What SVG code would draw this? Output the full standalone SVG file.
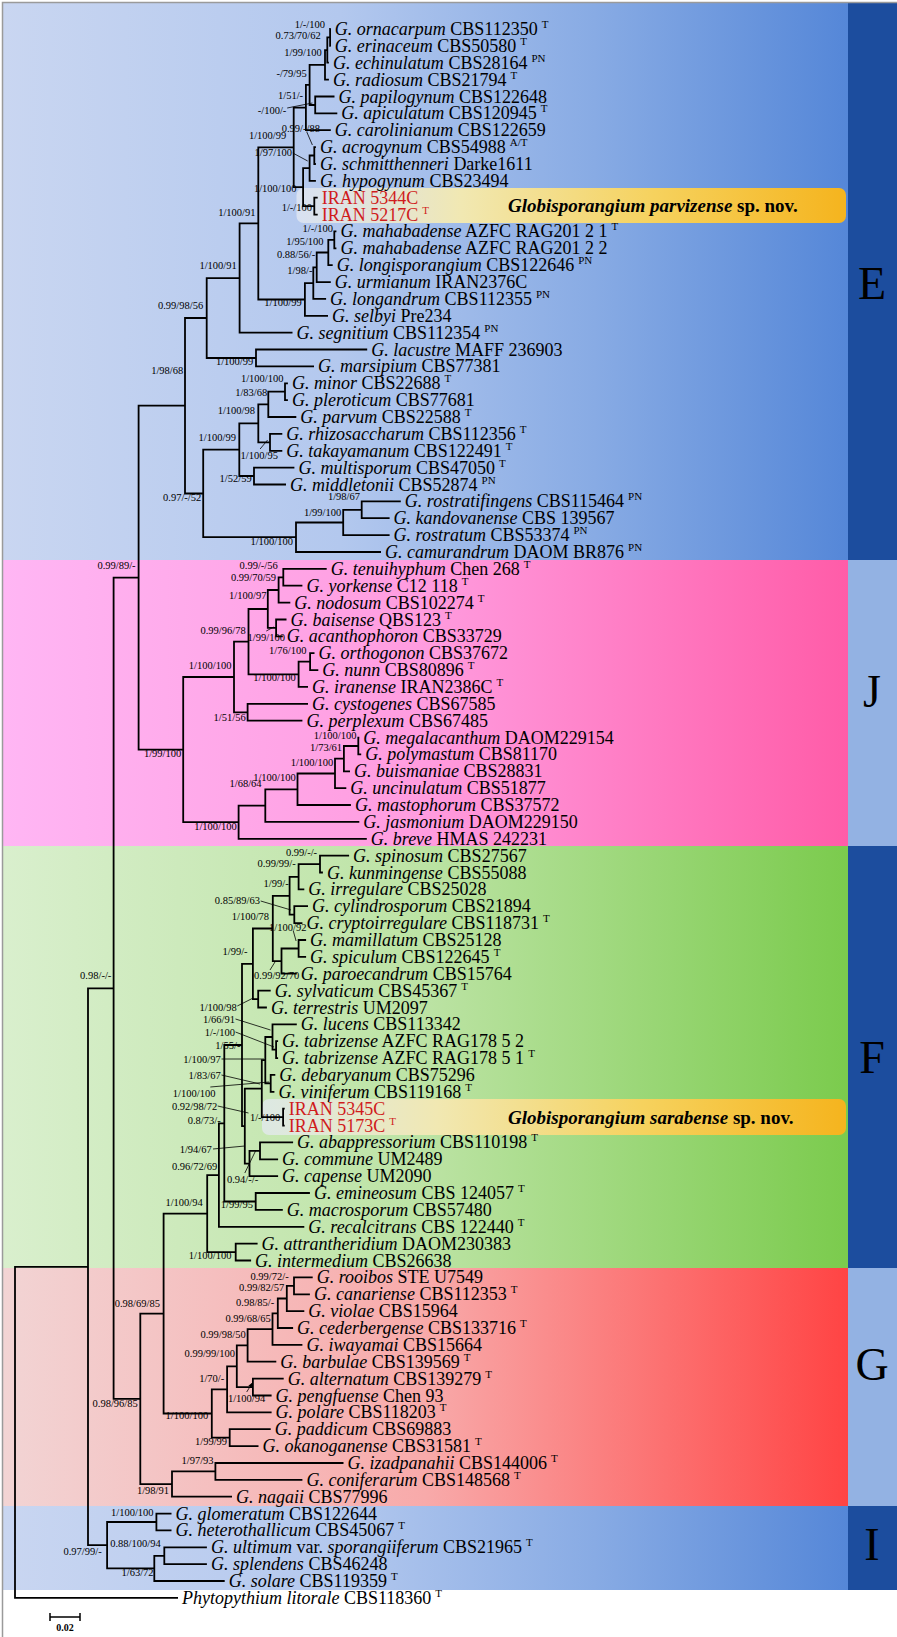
<svg xmlns="http://www.w3.org/2000/svg" width="897" height="1637" viewBox="0 0 897 1637">
<style>
.t{font-family:"Liberation Serif",serif;font-size:18px;fill:#000}
.i{font-style:italic}
.s{font-size:11px}
.r{fill:#d01c1c}
.b{font-family:"Liberation Serif",serif;font-size:10.5px;text-anchor:end;fill:#000}
.br{fill:none;stroke:#000;stroke-width:1.8}
.ar{fill:none;stroke:#000;stroke-width:0.8;marker-end:url(#ah)}
.L{font-family:"Liberation Serif",serif;font-size:46px;text-anchor:middle;fill:#000}
.nov{font-family:"Liberation Serif",serif;font-size:19px;font-weight:bold;fill:#000}
</style>
<defs>
<linearGradient id="gE" x1="0" x2="1" y1="0" y2="0"><stop offset="0" stop-color="#c9d6f1"/><stop offset="0.4" stop-color="#b3c8ee"/><stop offset="0.7" stop-color="#88abe4"/><stop offset="1" stop-color="#5587d8"/></linearGradient>
<linearGradient id="gJ" x1="0" x2="1" y1="0" y2="0"><stop offset="0" stop-color="#ffb6f4"/><stop offset="0.5" stop-color="#ff9cdf"/><stop offset="1" stop-color="#ff5ca8"/></linearGradient>
<linearGradient id="gF" x1="0" x2="1" y1="0" y2="0"><stop offset="0" stop-color="#d9efcd"/><stop offset="0.5" stop-color="#bce3a4"/><stop offset="1" stop-color="#7bcb4d"/></linearGradient>
<linearGradient id="gG" x1="0" x2="1" y1="0" y2="0"><stop offset="0" stop-color="#f2d4d4"/><stop offset="0.5" stop-color="#f8aaaa"/><stop offset="1" stop-color="#ff4444"/></linearGradient>
<linearGradient id="gN" x1="0" x2="1" y1="0" y2="0"><stop offset="0" stop-color="#e4e9f3" stop-opacity="0.75"/><stop offset="0.3" stop-color="#f1e8b2"/><stop offset="0.65" stop-color="#f6d25e"/><stop offset="1" stop-color="#f5b41e"/></linearGradient>
<marker id="ah" viewBox="0 0 10 10" refX="9" refY="5" markerWidth="6" markerHeight="6" orient="auto"><path d="M0,1L10,5L0,9z" fill="#000"/></marker>
</defs>
<rect x="0" y="0" width="897" height="1637" fill="#fff"/>
<g id="bands">
<rect x="3" y="3" width="845" height="557" fill="url(#gE)"/>
<rect x="3" y="560" width="845" height="286" fill="url(#gJ)"/>
<rect x="3" y="846" width="845" height="422" fill="url(#gF)"/>
<rect x="3" y="1268" width="845" height="238" fill="url(#gG)"/>
<rect x="3" y="1506" width="845" height="84" fill="url(#gE)"/>
<rect x="848" y="3" width="49" height="557" fill="#1c4d9e"/>
<rect x="848" y="560" width="49" height="286" fill="#93b2e3"/>
<rect x="848" y="846" width="49" height="422" fill="#1c4d9e"/>
<rect x="848" y="1268" width="49" height="238" fill="#93b2e3"/>
<rect x="848" y="1506" width="49" height="84" fill="#1c4d9e"/>
<path d="M2.5,1637V2.5H897" fill="none" stroke="#9a9a9a" stroke-width="1.5"/>
</g>
<g id="clade-letters">
<text class="L" x="872" y="299">E</text>
<text class="L" x="872" y="707">J</text>
<text class="L" x="872" y="1073">F</text>
<text class="L" x="872" y="1380">G</text>
<text class="L" x="872" y="1560">I</text>
</g>
<g id="novel-boxes">
<g id="box-parvizense"><rect x="296.5" y="188" width="549.5" height="35" rx="7" fill="url(#gN)"/><text class="nov" x="508" y="212"><tspan font-style="italic">Globisporangium parvizense</tspan> sp. nov.</text></g>
<g id="box-sarabense"><rect x="262" y="1099" width="584" height="36" rx="7" fill="url(#gN)"/><text class="nov" x="508" y="1124"><tspan font-style="italic">Globisporangium sarabense</tspan> sp. nov.</text></g>
</g>
<g id="connectors">
<path class="br" d="M330.8,29H330.1V45.9H330.8M330.1,37.4H327.3V62.7H328.9M327.3,50.1H325V79.6H328.9M334.5,96.5H315.2V113.4H337.3M325,64.8H309.6V105H315.2M309.6,84.9H305.9V130.2H330.8M315.9,147.1H314.3V164H315.9M314.3,155.5H309.6V180.8H315.9M317.7,197.7H314.3V214.6H317.7M309.6,168.2H303.1V206.1H314.3M305.9,107.6H293.7V187.1H303.1M336.4,231.4H334.3V248.3H336.4M334.3,239.9H328.3V265.2H332.7M328.3,252.5H316.7V282.1H330.8M316.7,267.3H313.3V298.9H326.1M313.3,283.1H304.9V315.8H328M293.7,147.4H258.3V299.5H304.9M258.3,223.4H239.6V332.7H292.5M367.2,349.5H256V366.4H314M239.6,278.1H206.7V358H256M287.9,383.3H285V400.1H287.9M285,391.7H268.3V417H296.3M282.3,433.9H270V450.8H282.3M268.3,404.4H258.3V442.3H270M294.4,467.6H254V484.5H286M258.3,423.4H239.3V476H254M400.8,501.4H361.7V518.2H389.6M361.7,509.8H343.2V535.1H389.6M343.2,522.5H296V552H381M239.3,449.7H203.2V537.2H296M206.7,318H185V493.5H203.2"/>
<path class="br" d="M326.7,568.8H283.3V585.7H302.4M283.3,577.3H278.6V602.6H290.3M286.5,619.5H276.1V636.3H282.8M278.6,590H267.8V627.9H276.1M314.5,653.2H310.1V670.1H318.3M310.1,661.7H298.6V686.9H308M267.8,609H248.5V674.3H298.6M308,703.8H247.6V720.7H302.4M248.5,641.7H234V712.3H247.6M359.3,737.6H358.3V754.4H361.2M358.3,746H343.9V771.3H350M343.9,758.7H335V788.2H346.3M335,773.5H297.5V805H350.9M297.5,789.3H265.3V821.9H359.3M265.3,805.6H238.6V838.8H366.8M234,677H183.2V822.2H238.6M185,405.7H138.6V749.6H183.2"/>
<path class="br" d="M349.1,855.6H320V872.5H322.9M320,864.1H298.6V889.4H304.3M308,906.2H294.3V923.1H302.4M298.6,876.8H289.6V914.7H294.3M306.1,940H298.6V956.9H306.1M298.6,948.5H281.5V973.7H296.8M289.6,895.8H272.8V961.1H281.5M270.7,990.6H258.2V1007.5H266.9M272.8,928.5H252.9V999.1H258.2M278.1,1041.2H276.1V1058.1H278.1M296.8,1024.3H272.5V1049.7H276.1M275.3,1074.9H270.7V1091.8H274.4M272.5,1037H265.3V1083.4H270.7M284.7,1108.7H283.1V1125.6H284.7M265.3,1060.2H261.8V1117.2H283.1M293.1,1142.4H260V1159.3H278.1M260,1150.9H249.5V1176.2H278.1M261.8,1088.7H244.8V1163.6H249.5M252.9,963.8H242V1126.2H244.8M309.9,1193H255.7V1209.9H282.8M242,1045H224.3V1201.5H255.7M224.3,1123.3H218.9V1226.8H304.3M257.6,1243.6H235.7V1260.5H251.1M218.9,1175.1H207.2V1252.1H235.7"/>
<path class="br" d="M312.7,1277.4H294V1294.3H309.9M294,1285.9H286.8V1311.1H304.3M286.8,1298.5H277.8V1328H293.1M277.8,1313.3H272.5V1344.9H302.4M272.5,1329.1H247.6V1361.7H276.3M283.7,1378.6H252.9V1395.5H271.6M247.6,1345.4H236.8V1387.1H252.9M236.8,1366.3H227.1V1412.3H271.6M270.7,1429.2H229.7V1446.1H258.5M227.1,1389.3H211.8V1437.7H229.7M207.2,1213.6H163.6V1413.5H211.8M343.5,1463H215.4V1479.8H302.4M215.4,1471.4H172V1496.7H232M163.6,1313.6H140.3V1484.1H172M138.6,577.7H113.6V1398.9H140.3"/>
<path class="br" d="M171.5,1513.6H156.4V1530.4H171.5M206.9,1547.3H164.3V1564.2H206.9M164.3,1555.8H154.3V1581H224.7M156.4,1522H107.1V1568.4H154.3M113.6,988.3H88V1545.2H107.1M88,1266.8H15V1597.9H178"/>
<path class="ar" d="M287.2,108L312.4,103M306.8,132L312.4,145M292.8,153L307.7,161M260.1,449L267.6,440M266.3,631L273.7,627M260.7,901L291,910M293.3,931L296.1,941M270,970L275.6,961M237.3,1006L253.2,998M235.5,1019L270.5,1030M235.5,1032L274,1047M221.5,1059L264,1059M221.5,1075L260,1084M210.3,1087L269.1,1082M217.7,1106L248.5,1113M213,1149L244.8,1146M244.8,1173L256,1150M246.7,1392L252.3,1383"/>
<path d="M50,1617H80M50,1613V1621M80,1613V1621" fill="none" stroke="#000" stroke-width="1.5"/>
</g>
<g id="support-values">
<text class="b" x="325" y="27.5">1/-/100</text>
<text class="b" x="320.8" y="38.5">0.73/70/62</text>
<text class="b" x="321.7" y="55.5">1/99/100</text>
<text class="b" x="306.8" y="76.5">-/79/95</text>
<text class="b" x="303.1" y="98.5">1/51/-</text>
<text class="b" x="286.3" y="113.5">-/100/-</text>
<text class="b" x="286.3" y="138.5">1/100/99</text>
<text class="b" x="319.9" y="131.5">0.99/-/88</text>
<text class="b" x="291.9" y="155.5">1/97/100</text>
<text class="b" x="296.5" y="191.5">1/100/100</text>
<text class="b" x="312" y="210.5">1/-/100</text>
<text class="b" x="255.5" y="215.5">1/100/91</text>
<text class="b" x="332.9" y="231.5">1/-/100</text>
<text class="b" x="323.6" y="244.5">1/95/100</text>
<text class="b" x="315.2" y="257.5">0.88/56/-</text>
<text class="b" x="312.4" y="273.5">1/98/-</text>
<text class="b" x="236.8" y="268.5">1/100/91</text>
<text class="b" x="301.7" y="305.5">1/100/99</text>
<text class="b" x="203.2" y="308.5">0.99/98/56</text>
<text class="b" x="253.3" y="364.5">1/100/99</text>
<text class="b" x="183.3" y="373.5">1/98/68</text>
<text class="b" x="283.5" y="381.5">1/100/100</text>
<text class="b" x="267.3" y="395.5">1/83/68</text>
<text class="b" x="255" y="413.5">1/100/98</text>
<text class="b" x="277.9" y="458.5">1/100/95</text>
<text class="b" x="235.9" y="440.5">1/100/99</text>
<text class="b" x="251.7" y="481.5">1/52/59</text>
<text class="b" x="201.3" y="500.5">0.97/-/52</text>
<text class="b" x="360" y="499.5">1/98/67</text>
<text class="b" x="341.3" y="515.5">1/99/100</text>
<text class="b" x="293" y="544.5">1/100/100</text>
<text class="b" x="135.6" y="568.5">0.99/89/-</text>
<text class="b" x="277.8" y="568.5">0.99/-/56</text>
<text class="b" x="276.1" y="580.5">0.99/70/59</text>
<text class="b" x="266.4" y="598.5">1/100/97</text>
<text class="b" x="284.9" y="640.5">1/99/100</text>
<text class="b" x="245.7" y="633.5">0.99/96/78</text>
<text class="b" x="306.4" y="653.5">1/76/100</text>
<text class="b" x="295.8" y="680.5">1/100/100</text>
<text class="b" x="231.4" y="668.5">1/100/100</text>
<text class="b" x="245.7" y="720.5">1/51/56</text>
<text class="b" x="181.3" y="756.5">1/99/100</text>
<text class="b" x="356.4" y="738.5">1/100/100</text>
<text class="b" x="342.1" y="750.5">1/73/61</text>
<text class="b" x="333.3" y="765.5">1/100/100</text>
<text class="b" x="295.8" y="780.5">1/100/100</text>
<text class="b" x="261.6" y="786.5">1/68/64</text>
<text class="b" x="236.8" y="829.5">1/100/100</text>
<text class="b" x="317.1" y="855.5">0.99/-/-</text>
<text class="b" x="295.8" y="866.5">0.99/99/-</text>
<text class="b" x="288.7" y="886.5">1/99/-</text>
<text class="b" x="260" y="903.5">0.85/89/63</text>
<text class="b" x="269.1" y="919.5">1/100/78</text>
<text class="b" x="306.4" y="930.5">1/100/92</text>
<text class="b" x="299.3" y="978.5">0.99/92/70</text>
<text class="b" x="247.6" y="954.5">1/99/-</text>
<text class="b" x="236.8" y="1010.5">1/100/98</text>
<text class="b" x="235" y="1022.5">1/66/91</text>
<text class="b" x="235" y="1035.5">1/-/100</text>
<text class="b" x="240.4" y="1048.5">1/55/-</text>
<text class="b" x="220.7" y="1062.5">1/100/97</text>
<text class="b" x="220.7" y="1078.5">1/83/67</text>
<text class="b" x="215.4" y="1096.5">1/100/100</text>
<text class="b" x="217.2" y="1109.5">0.92/98/72</text>
<text class="b" x="220.7" y="1123.5">0.8/73/-</text>
<text class="b" x="280.3" y="1120.5">1/-/100</text>
<text class="b" x="211.8" y="1152.5">1/94/67</text>
<text class="b" x="258.2" y="1182.5">0.94/-/-</text>
<text class="b" x="217.2" y="1169.5">0.96/72/69</text>
<text class="b" x="252.9" y="1207.5">1/99/95</text>
<text class="b" x="202.8" y="1205.5">1/100/94</text>
<text class="b" x="231.4" y="1258.5">1/100/100</text>
<text class="b" x="288.7" y="1279.5">0.99/72/-</text>
<text class="b" x="284.3" y="1290.5">0.99/82/57</text>
<text class="b" x="274.3" y="1305.5">0.98/85/-</text>
<text class="b" x="270.7" y="1321.5">0.99/68/65</text>
<text class="b" x="245.7" y="1337.5">0.99/98/50</text>
<text class="b" x="235" y="1356.5">0.99/99/100</text>
<text class="b" x="224.3" y="1381.5">1/70/-</text>
<text class="b" x="265.3" y="1401.5">1/100/94</text>
<text class="b" x="208.2" y="1418.5">1/100/100</text>
<text class="b" x="227.1" y="1444.5">1/99/99</text>
<text class="b" x="213.6" y="1463.5">1/97/93</text>
<text class="b" x="169" y="1493.5">1/98/91</text>
<text class="b" x="159.9" y="1306.5">0.98/69/85</text>
<text class="b" x="137.8" y="1406.5">0.98/96/85</text>
<text class="b" x="111.3" y="978.5">0.98/-/-</text>
<text class="b" x="153.6" y="1515.5">1/100/100</text>
<text class="b" x="160.7" y="1546.5">0.88/100/94</text>
<text class="b" x="153.6" y="1575.5">1/63/72</text>
<text class="b" x="101.7" y="1554.5">0.97/99/-</text>
<text x="65" y="1631" font-family="Liberation Serif, serif" font-size="10px" font-weight="bold" text-anchor="middle">0.02</text>
</g>
<g id="taxa">
<g id="t1"><text class="t" x="334.8" y="35"><tspan class="i">G. ornacarpum</tspan> CBS112350<tspan class="s" dx="4" dy="-7">T</tspan></text></g>
<g id="t2"><text class="t" x="334.8" y="51.9"><tspan class="i">G. erinaceum</tspan> CBS50580<tspan class="s" dx="4" dy="-7">T</tspan></text></g>
<g id="t3"><text class="t" x="332.9" y="68.7"><tspan class="i">G. echinulatum</tspan> CBS28164<tspan class="s" dx="4" dy="-7">PN</tspan></text></g>
<g id="t4"><text class="t" x="332.9" y="85.6"><tspan class="i">G. radiosum</tspan> CBS21794<tspan class="s" dx="4" dy="-7">T</tspan></text></g>
<g id="t5"><text class="t" x="338.5" y="102.5"><tspan class="i">G. papilogynum</tspan> CBS122648</text></g>
<g id="t6"><text class="t" x="341.3" y="119.4"><tspan class="i">G. apiculatum</tspan> CBS120945<tspan class="s" dx="4" dy="-7">T</tspan></text></g>
<g id="t7"><text class="t" x="334.8" y="136.2"><tspan class="i">G. carolinianum</tspan> CBS122659</text></g>
<g id="t8"><text class="t" x="319.9" y="153.1"><tspan class="i">G. acrogynum</tspan> CBS54988<tspan class="s" dx="4" dy="-7">A/T</tspan></text></g>
<g id="t9"><text class="t" x="319.9" y="170"><tspan class="i">G. schmitthenneri</tspan> Darke1611</text></g>
<g id="t10"><text class="t" x="319.9" y="186.8"><tspan class="i">G. hypogynum</tspan> CBS23494</text></g>
<g id="t11"><text class="t r" x="321.7" y="203.7">IRAN 5344C</text></g>
<g id="t12"><text class="t r" x="321.7" y="220.6">IRAN 5217C<tspan class="s" dx="4" dy="-7">T</tspan></text></g>
<g id="t13"><text class="t" x="340.4" y="237.4"><tspan class="i">G. mahabadense</tspan> AZFC RAG201 2 1<tspan class="s" dx="4" dy="-7">T</tspan></text></g>
<g id="t14"><text class="t" x="340.4" y="254.3"><tspan class="i">G. mahabadense</tspan> AZFC RAG201 2 2</text></g>
<g id="t15"><text class="t" x="336.7" y="271.2"><tspan class="i">G. longisporangium</tspan> CBS122646<tspan class="s" dx="4" dy="-7">PN</tspan></text></g>
<g id="t16"><text class="t" x="334.8" y="288.1"><tspan class="i">G. urmianum</tspan> IRAN2376C</text></g>
<g id="t17"><text class="t" x="330.1" y="304.9"><tspan class="i">G. longandrum</tspan> CBS112355<tspan class="s" dx="4" dy="-7">PN</tspan></text></g>
<g id="t18"><text class="t" x="332" y="321.8"><tspan class="i">G. selbyi</tspan> Pre234</text></g>
<g id="t19"><text class="t" x="296.5" y="338.7"><tspan class="i">G. segnitium</tspan> CBS112354<tspan class="s" dx="4" dy="-7">PN</tspan></text></g>
<g id="t20"><text class="t" x="371.2" y="355.5"><tspan class="i">G. lacustre</tspan> MAFF 236903</text></g>
<g id="t21"><text class="t" x="318" y="372.4"><tspan class="i">G. marsipium</tspan> CBS77381</text></g>
<g id="t22"><text class="t" x="291.9" y="389.3"><tspan class="i">G. minor</tspan> CBS22688<tspan class="s" dx="4" dy="-7">T</tspan></text></g>
<g id="t23"><text class="t" x="291.9" y="406.1"><tspan class="i">G. pleroticum</tspan> CBS77681</text></g>
<g id="t24"><text class="t" x="300.3" y="423"><tspan class="i">G. parvum</tspan> CBS22588<tspan class="s" dx="4" dy="-7">T</tspan></text></g>
<g id="t25"><text class="t" x="286.3" y="439.9"><tspan class="i">G. rhizosaccharum</tspan> CBS112356<tspan class="s" dx="4" dy="-7">T</tspan></text></g>
<g id="t26"><text class="t" x="286.3" y="456.8"><tspan class="i">G. takayamanum</tspan> CBS122491<tspan class="s" dx="4" dy="-7">T</tspan></text></g>
<g id="t27"><text class="t" x="298.4" y="473.6"><tspan class="i">G. multisporum</tspan> CBS47050<tspan class="s" dx="4" dy="-7">T</tspan></text></g>
<g id="t28"><text class="t" x="290" y="490.5"><tspan class="i">G. middletonii</tspan> CBS52874<tspan class="s" dx="4" dy="-7">PN</tspan></text></g>
<g id="t29"><text class="t" x="404.8" y="507.4"><tspan class="i">G. rostratifingens</tspan> CBS115464<tspan class="s" dx="4" dy="-7">PN</tspan></text></g>
<g id="t30"><text class="t" x="393.6" y="524.2"><tspan class="i">G. kandovanense</tspan> CBS 139567</text></g>
<g id="t31"><text class="t" x="393.6" y="541.1"><tspan class="i">G. rostratum</tspan> CBS53374<tspan class="s" dx="4" dy="-7">PN</tspan></text></g>
<g id="t32"><text class="t" x="385" y="558"><tspan class="i">G. camurandrum</tspan> DAOM BR876<tspan class="s" dx="4" dy="-7">PN</tspan></text></g>
<g id="t33"><text class="t" x="330.7" y="574.8"><tspan class="i">G. tenuihyphum</tspan> Chen 268<tspan class="s" dx="4" dy="-7">T</tspan></text></g>
<g id="t34"><text class="t" x="306.4" y="591.7"><tspan class="i">G. yorkense</tspan> C12 118<tspan class="s" dx="4" dy="-7">T</tspan></text></g>
<g id="t35"><text class="t" x="294.3" y="608.6"><tspan class="i">G. nodosum</tspan> CBS102274<tspan class="s" dx="4" dy="-7">T</tspan></text></g>
<g id="t36"><text class="t" x="290.5" y="625.5"><tspan class="i">G. baisense</tspan> QBS123<tspan class="s" dx="4" dy="-7">T</tspan></text></g>
<g id="t37"><text class="t" x="286.8" y="642.3"><tspan class="i">G. acanthophoron</tspan> CBS33729</text></g>
<g id="t38"><text class="t" x="318.5" y="659.2"><tspan class="i">G. orthogonon</tspan> CBS37672</text></g>
<g id="t39"><text class="t" x="322.3" y="676.1"><tspan class="i">G. nunn</tspan> CBS80896<tspan class="s" dx="4" dy="-7">T</tspan></text></g>
<g id="t40"><text class="t" x="312" y="692.9"><tspan class="i">G. iranense</tspan> IRAN2386C<tspan class="s" dx="4" dy="-7">T</tspan></text></g>
<g id="t41"><text class="t" x="312" y="709.8"><tspan class="i">G. cystogenes</tspan> CBS67585</text></g>
<g id="t42"><text class="t" x="306.4" y="726.7"><tspan class="i">G. perplexum</tspan> CBS67485</text></g>
<g id="t43"><text class="t" x="363.3" y="743.6"><tspan class="i">G. megalacanthum</tspan> DAOM229154</text></g>
<g id="t44"><text class="t" x="365.2" y="760.4"><tspan class="i">G. polymastum</tspan> CBS81170</text></g>
<g id="t45"><text class="t" x="354" y="777.3"><tspan class="i">G. buismaniae</tspan> CBS28831</text></g>
<g id="t46"><text class="t" x="350.3" y="794.2"><tspan class="i">G. uncinulatum</tspan> CBS51877</text></g>
<g id="t47"><text class="t" x="354.9" y="811"><tspan class="i">G. mastophorum</tspan> CBS37572</text></g>
<g id="t48"><text class="t" x="363.3" y="827.9"><tspan class="i">G. jasmonium</tspan> DAOM229150</text></g>
<g id="t49"><text class="t" x="370.8" y="844.8"><tspan class="i">G. breve</tspan> HMAS 242231</text></g>
<g id="t50"><text class="t" x="353.1" y="861.6"><tspan class="i">G. spinosum</tspan> CBS27567</text></g>
<g id="t51"><text class="t" x="326.9" y="878.5"><tspan class="i">G. kunmingense</tspan> CBS55088</text></g>
<g id="t52"><text class="t" x="308.3" y="895.4"><tspan class="i">G. irregulare</tspan> CBS25028</text></g>
<g id="t53"><text class="t" x="312" y="912.2"><tspan class="i">G. cylindrosporum</tspan> CBS21894</text></g>
<g id="t54"><text class="t" x="306.4" y="929.1"><tspan class="i">G. cryptoirregulare</tspan> CBS118731<tspan class="s" dx="4" dy="-7">T</tspan></text></g>
<g id="t55"><text class="t" x="310.1" y="946"><tspan class="i">G. mamillatum</tspan> CBS25128</text></g>
<g id="t56"><text class="t" x="310.1" y="962.9"><tspan class="i">G. spiculum</tspan> CBS122645<tspan class="s" dx="4" dy="-7">T</tspan></text></g>
<g id="t57"><text class="t" x="300.8" y="979.7"><tspan class="i">G. paroecandrum</tspan> CBS15764</text></g>
<g id="t58"><text class="t" x="274.7" y="996.6"><tspan class="i">G. sylvaticum</tspan> CBS45367<tspan class="s" dx="4" dy="-7">T</tspan></text></g>
<g id="t59"><text class="t" x="270.9" y="1013.5"><tspan class="i">G. terrestris</tspan> UM2097</text></g>
<g id="t60"><text class="t" x="300.8" y="1030.3"><tspan class="i">G. lucens</tspan> CBS113342</text></g>
<g id="t61"><text class="t" x="282.1" y="1047.2"><tspan class="i">G. tabrizense</tspan> AZFC RAG178 5 2</text></g>
<g id="t62"><text class="t" x="282.1" y="1064.1"><tspan class="i">G. tabrizense</tspan> AZFC RAG178 5 1<tspan class="s" dx="4" dy="-7">T</tspan></text></g>
<g id="t63"><text class="t" x="279.3" y="1080.9"><tspan class="i">G. debaryanum</tspan> CBS75296</text></g>
<g id="t64"><text class="t" x="278.4" y="1097.8"><tspan class="i">G. viniferum</tspan> CBS119168<tspan class="s" dx="4" dy="-7">T</tspan></text></g>
<g id="t65"><text class="t r" x="288.7" y="1114.7">IRAN 5345C</text></g>
<g id="t66"><text class="t r" x="288.7" y="1131.6">IRAN 5173C<tspan class="s" dx="4" dy="-7">T</tspan></text></g>
<g id="t67"><text class="t" x="297.1" y="1148.4"><tspan class="i">G. abappressorium</tspan> CBS110198<tspan class="s" dx="4" dy="-7">T</tspan></text></g>
<g id="t68"><text class="t" x="282.1" y="1165.3"><tspan class="i">G. commune</tspan> UM2489</text></g>
<g id="t69"><text class="t" x="282.1" y="1182.2"><tspan class="i">G. capense</tspan> UM2090</text></g>
<g id="t70"><text class="t" x="313.9" y="1199"><tspan class="i">G. emineosum</tspan> CBS 124057<tspan class="s" dx="4" dy="-7">T</tspan></text></g>
<g id="t71"><text class="t" x="286.8" y="1215.9"><tspan class="i">G. macrosporum</tspan> CBS57480</text></g>
<g id="t72"><text class="t" x="308.3" y="1232.8"><tspan class="i">G. recalcitrans</tspan> CBS 122440<tspan class="s" dx="4" dy="-7">T</tspan></text></g>
<g id="t73"><text class="t" x="261.6" y="1249.6"><tspan class="i">G. attrantheridium</tspan> DAOM230383</text></g>
<g id="t74"><text class="t" x="255.1" y="1266.5"><tspan class="i">G. intermedium</tspan> CBS26638</text></g>
<g id="t75"><text class="t" x="316.7" y="1283.4"><tspan class="i">G. rooibos</tspan> STE U7549</text></g>
<g id="t76"><text class="t" x="313.9" y="1300.3"><tspan class="i">G. canariense</tspan> CBS112353<tspan class="s" dx="4" dy="-7">T</tspan></text></g>
<g id="t77"><text class="t" x="308.3" y="1317.1"><tspan class="i">G. violae</tspan> CBS15964</text></g>
<g id="t78"><text class="t" x="297.1" y="1334"><tspan class="i">G. cederbergense</tspan> CBS133716<tspan class="s" dx="4" dy="-7">T</tspan></text></g>
<g id="t79"><text class="t" x="306.4" y="1350.9"><tspan class="i">G. iwayamai</tspan> CBS15664</text></g>
<g id="t80"><text class="t" x="280.3" y="1367.7"><tspan class="i">G. barbulae</tspan> CBS139569<tspan class="s" dx="4" dy="-7">T</tspan></text></g>
<g id="t81"><text class="t" x="287.7" y="1384.6"><tspan class="i">G. alternatum</tspan> CBS139279<tspan class="s" dx="4" dy="-7">T</tspan></text></g>
<g id="t82"><text class="t" x="275.6" y="1401.5"><tspan class="i">G. pengfuense</tspan> Chen 93</text></g>
<g id="t83"><text class="t" x="275.6" y="1418.3"><tspan class="i">G. polare</tspan> CBS118203<tspan class="s" dx="4" dy="-7">T</tspan></text></g>
<g id="t84"><text class="t" x="274.7" y="1435.2"><tspan class="i">G. paddicum</tspan> CBS69883</text></g>
<g id="t85"><text class="t" x="262.5" y="1452.1"><tspan class="i">G. okanoganense</tspan> CBS31581<tspan class="s" dx="4" dy="-7">T</tspan></text></g>
<g id="t86"><text class="t" x="347.5" y="1469"><tspan class="i">G. izadpanahii</tspan> CBS144006<tspan class="s" dx="4" dy="-7">T</tspan></text></g>
<g id="t87"><text class="t" x="306.4" y="1485.8"><tspan class="i">G. coniferarum</tspan> CBS148568<tspan class="s" dx="4" dy="-7">T</tspan></text></g>
<g id="t88"><text class="t" x="236" y="1502.7"><tspan class="i">G. nagaii</tspan> CBS77996</text></g>
<g id="t89"><text class="t" x="175.5" y="1519.6"><tspan class="i">G. glomeratum</tspan> CBS122644</text></g>
<g id="t90"><text class="t" x="175.5" y="1536.4"><tspan class="i">G. heterothallicum</tspan> CBS45067<tspan class="s" dx="4" dy="-7">T</tspan></text></g>
<g id="t91"><text class="t" x="210.9" y="1553.3"><tspan class="i">G. ultimum</tspan> var. <tspan class="i">sporangiiferum</tspan> CBS21965<tspan class="s" dx="4" dy="-7">T</tspan></text></g>
<g id="t92"><text class="t" x="210.9" y="1570.2"><tspan class="i">G. splendens</tspan> CBS46248</text></g>
<g id="t93"><text class="t" x="228.7" y="1587"><tspan class="i">G. solare</tspan> CBS119359<tspan class="s" dx="4" dy="-7">T</tspan></text></g>
<g id="t94"><text class="t" x="182" y="1603.9"><tspan class="i">Phytopythium litorale</tspan> CBS118360<tspan class="s" dx="4" dy="-7">T</tspan></text></g>
</g>
</svg>
